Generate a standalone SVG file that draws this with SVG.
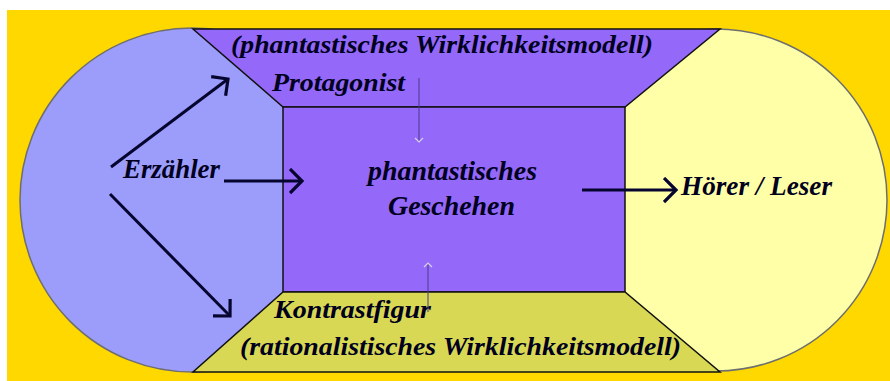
<svg xmlns="http://www.w3.org/2000/svg" width="890" height="381" viewBox="0 0 890 381">
<style>
.t{font-family:"Liberation Serif","Times New Roman",serif;font-weight:bold;font-style:italic;fill:#00001e}
.circ{stroke:#6e6e6e;stroke-width:1.5}
.box{stroke:#111;stroke-width:1.5}
.ar{fill:none;stroke:#050530;stroke-width:3}
.thin{fill:none;stroke:#4a3a8a;stroke-width:1}
</style>
<defs>
<marker id="ah" markerUnits="userSpaceOnUse" markerWidth="30" markerHeight="30" refX="13" refY="13" orient="auto" viewBox="0 0 30 30">
<path d="M1,1 L13,13 L1,25" fill="none" stroke="#050530" stroke-width="3.2"/>
</marker>
<marker id="sh" markerUnits="userSpaceOnUse" markerWidth="10" markerHeight="10" refX="5" refY="5" orient="auto" viewBox="0 0 10 10">
<path d="M1,1 L5,5 L1,9" fill="none" stroke="#d8d0ee" stroke-width="1.2"/>
</marker>
</defs>
<rect x="0" y="0" width="890" height="381" fill="#ffffff"/>
<rect x="7" y="10" width="883" height="371" fill="#ffd800"/>
<g id="erzaehler">
<circle class="circ" cx="192" cy="200" r="172" fill="#9c9cfa"/>
</g>
<g id="leser">
<circle class="circ" cx="716" cy="200" r="171" fill="#ffffa8"/>
</g>
<g id="wirklichkeitsmodell-phantastisch">
<polygon class="box" points="193,29 720,29 625,107 283,107" fill="#9468f8"/>
<text class="t" x="231" y="53" font-size="25" textLength="422" lengthAdjust="spacingAndGlyphs">(phantastisches Wirklichkeitsmodell)</text>
<text class="t" x="272" y="91" font-size="25" textLength="133" lengthAdjust="spacingAndGlyphs">Protagonist</text>
</g>
<g id="geschehen">
<rect class="box" x="283" y="107" width="342" height="185" fill="#9468f8"/>
<text class="t" x="368" y="180" font-size="28" textLength="169" lengthAdjust="spacingAndGlyphs">phantastisches</text>
<text class="t" x="388" y="215" font-size="28" textLength="127" lengthAdjust="spacingAndGlyphs">Geschehen</text>
</g>
<g id="wirklichkeitsmodell-rational">
<polygon class="box" points="283,292 625,292 720,372 193,372" fill="#d8d855"/>
<text class="t" x="274" y="318" font-size="25" textLength="157" lengthAdjust="spacingAndGlyphs">Kontrastfigur</text>
<text class="t" x="240" y="355" font-size="25" textLength="441" lengthAdjust="spacingAndGlyphs">(rationalistisches Wirklichkeitsmodell)</text>
</g>
<g id="labels">
<text class="t" x="123" y="178" font-size="27" textLength="97" lengthAdjust="spacingAndGlyphs">Erzähler</text>
<text class="t" x="681" y="195" font-size="27" textLength="151" lengthAdjust="spacingAndGlyphs">Hörer / Leser</text>
</g>
<g id="connectors">
<line class="ar" x1="111" y1="167" x2="228" y2="79" marker-end="url(#ah)"/>
<line class="ar" x1="110" y1="194" x2="230" y2="316" marker-end="url(#ah)"/>
<line class="ar" x1="224" y1="181" x2="302" y2="181" marker-end="url(#ah)"/>
<line class="ar" x1="582" y1="190" x2="676" y2="190" marker-end="url(#ah)"/>
<line class="thin" x1="419" y1="78" x2="419" y2="142" marker-end="url(#sh)"/>
<line class="thin" x1="428" y1="312" x2="428" y2="263" marker-end="url(#sh)"/>
</g>
</svg>
